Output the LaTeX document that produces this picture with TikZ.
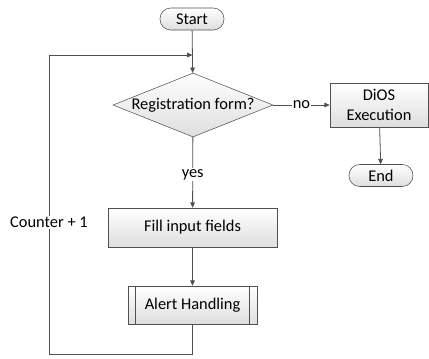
\documentclass[tikz,border=0pt]{standalone}
\usepackage{fontspec}
\setmainfont{Carlito}
\usetikzlibrary{shapes.geometric,arrows.meta}

\definecolor{flowline}{RGB}{80,80,80}
\definecolor{flowfill}{RGB}{222,222,222}

\tikzset{
  shaded/.style={draw=flowline, top color=white, bottom color=flowfill, inner sep=0pt},
  terminal/.style={shaded, rectangle, rounded corners=8pt, minimum width=48pt, minimum height=16.5pt},
  process/.style={shaded, rectangle, align=center},
  decision/.style={shaded, diamond, aspect=2.5, minimum width=120pt, minimum height=48pt},
  flow/.style={draw=flowline, semithick, -{Triangle[length=4pt,width=3.5pt]}},
  plain/.style={draw=flowline, semithick}
}

\begin{document}
\begin{tikzpicture}[x=0.75pt, y=-0.75pt, every node/.style={font=\fontsize{12.3pt}{14.5pt}\selectfont}]
    \useasboundingbox (0,0) rectangle (429,358);

    \node[terminal] (start) at (192,19) {Start};
    \node[decision, inner sep=-1pt] (regform) at (193,105) {Registration form?};
    \node[process, minimum width=73.5pt, minimum height=33pt] (dios) at (379,105) {DiOS\\Execution};
    \node[terminal] (end) at (381,175.5) {End};
    \node[process, minimum width=126.75pt, minimum height=29.25pt] (fill) at (192.5,227.5) {Fill input fields};
    \node[process, minimum width=96.75pt, minimum height=28.5pt] (alert) at (192.5,305) {Alert Handling};
    % side bars of the predefined process
    \draw[flowline] ([xshift=6pt]alert.north west) -- ([xshift=6pt]alert.south west);
    \draw[flowline] ([xshift=-6pt]alert.north east) -- ([xshift=-6pt]alert.south east);

    \coordinate (join) at (192.5,55);
    \coordinate (loopbot) at (49,354);
    \coordinate (looptop) at (49,55);

    \draw[flow] (start) -- (regform);
    \draw[flow] (regform) -- node[fill=white, inner sep=1pt] {no} (dios);
    \draw[flow] (dios) -- (end);
    \draw[flow] (regform) -- node[fill=white, inner sep=1pt, pos=0.53] {yes} (fill);
    \draw[flow] (fill) -- (alert);
    \draw[plain] (alert.south) |- (loopbot) -- node[fill=white, inner sep=1pt, pos=0.44] {Counter + 1} (looptop);
    \draw[flow] (looptop) -- (join);
\end{tikzpicture}
\end{document}
